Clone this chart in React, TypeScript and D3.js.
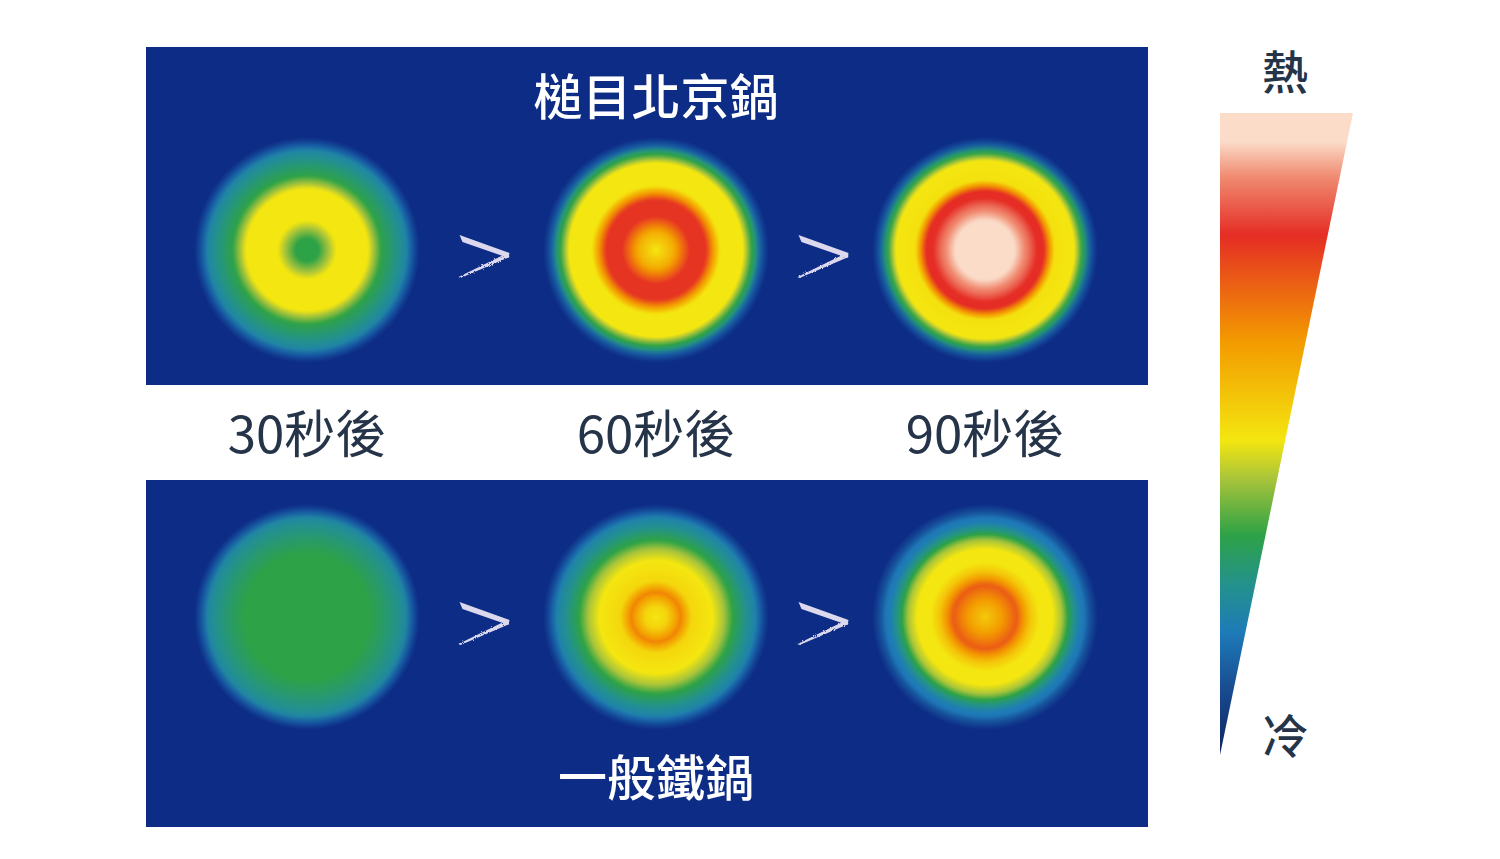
import React from "react";
import * as d3 from "d3";

// ---- data ----
const times = ["30秒後", "60秒後", "90秒後"];
const panels = ["槌目北京鍋", "一般鐵鍋"];
const legendLabels = ["熱", "冷"];

// colour bar: heat value (1 = hot) -> colour
const barHeat = [1.0, 0.956, 0.9, 0.81, 0.645, 0.49, 0.43, 0.343, 0.263, 0.19, 0.09, 0.0];
const barColors = ["#fbdcc8", "#fbdcc8", "#f08a70", "#e52d25", "#f39a00", "#f4e610", "#a8c43a", "#2ea246", "#23918e", "#1e7ab8", "#17468a", "#0e2560"];

// radial heat profiles: [radius fraction, heat]
const wokTop30: [number, number][] = [[0, 0.343], [0.1, 0.343], [0.26, 0.49], [0.54, 0.49], [0.66, 0.34], [0.8, 0.27], [0.92, 0.2], [1, 0.15]];
const wokTop60: [number, number][] = [[0, 0.49], [0.15, 0.6], [0.3, 0.8], [0.44, 0.8], [0.57, 0.49], [0.77, 0.49], [0.85, 0.34], [0.93, 0.2], [1, 0.15]];
const wokTop90: [number, number][] = [[0, 1.0], [0.24, 0.97], [0.38, 0.88], [0.46, 0.81], [0.52, 0.81], [0.62, 0.5], [0.79, 0.49], [0.86, 0.34], [0.94, 0.2], [1, 0.15]];
const ironBot30: [number, number][] = [[0, 0.343], [0.55, 0.343], [0.7, 0.3], [0.82, 0.26], [0.93, 0.2], [1, 0.15]];
const ironBot60: [number, number][] = [[0, 0.49], [0.1, 0.53], [0.22, 0.68], [0.32, 0.52], [0.5, 0.49], [0.6, 0.43], [0.68, 0.343], [0.8, 0.26], [0.92, 0.19], [1, 0.15]];
const ironBot90: [number, number][] = [[0, 0.55], [0.12, 0.62], [0.28, 0.74], [0.4, 0.56], [0.48, 0.49], [0.6, 0.49], [0.68, 0.43], [0.76, 0.3], [0.84, 0.2], [0.93, 0.16], [1, 0.15]];

const profiles = [
  [wokTop30, wokTop60, wokTop90],
  [ironBot30, ironBot60, ironBot90],
];

const BG = "#0d2c86";
const TEXT = "#253448";

export default function App() {
  const heatColor = d3.scaleLinear<string>().domain(barHeat).range(barColors).interpolate(d3.interpolateRgb).clamp(true);

  const xCol = d3.scaleOrdinal<string, number>().domain(times).range([307, 656, 985]);
  const yRow = d3.scaleOrdinal<string, number>().domain(panels).range([250, 617]);
  const panelTop = d3.scaleOrdinal<string, number>().domain(panels).range([47, 480]);
  const panelH = d3.scaleOrdinal<string, number>().domain(panels).range([338, 347]);
  const R = 113;
  const panelX0 = 146, panelX1 = 1148;

  // colour bar geometry
  const barTop = 113, barBot = 755, barL = 1220, barR = 1353;
  const yBar = d3.scaleLinear().domain([1, 0]).range([barTop, barBot]);

  const nSamples = 60;
  const sampleStops = (prof: [number, number][]) => {
    const s = d3.scaleLinear().domain(prof.map((p) => p[0])).range(prof.map((p) => p[1]));
    return d3.range(nSamples + 1).map((i) => {
      const r = i / nSamples;
      const op = r <= 0.88 ? 1 : Math.max(0, 1 - (r - 0.88) / 0.12);
      return { off: r, color: heatColor(s(r)), op };
    });
  };

  const arrow = (cx: number, cy: number, key: string) => {
    const upper = `M${cx - 25},${cy - 18} L${cx + 25},${cy} L${cx + 24},${cy + 5} L${cx - 22},${cy - 11} Z`;
    const lower = `M${cx + 23},${cy} L${cx + 25},${cy + 4} L${cx - 24},${cy + 25} L${cx - 26},${cy + 24} Z`;
    return (
      <g key={key} fill="#dcd8ee">
        <path d={upper} />
        <path d={lower} filter="url(#rough)" />
      </g>
    );
  };

  return (
    <svg width={1500} height={859} style={{ position: "fixed", left: 0, top: 0, background: "#fff" }}
      fontFamily="'Noto Sans CJK TC', 'Noto Sans', sans-serif">
      <defs>
        {panels.map((p, pi) =>
          times.map((t, ti) => (
            <radialGradient key={`g${pi}${ti}`} id={`g${pi}${ti}`} cx="50%" cy="50%" r="50%">
              {sampleStops(profiles[pi][ti]).map((s, i) => (
                <stop key={i} offset={s.off} stopColor={s.color} stopOpacity={s.op} />
              ))}
            </radialGradient>
          ))
        )}
        <linearGradient id="bar" x1="0" y1={barTop} x2="0" y2={barBot} gradientUnits="userSpaceOnUse">
          {barHeat.map((h, i) => (
            <stop key={i} offset={(yBar(h) - barTop) / (barBot - barTop)} stopColor={barColors[i]} />
          ))}
        </linearGradient>
        <filter id="rough" x="-20%" y="-50%" width="140%" height="200%">
          <feTurbulence type="fractalNoise" baseFrequency="0.9" numOctaves="2" result="n" />
          <feDisplacementMap in="SourceGraphic" in2="n" scale="3" />
        </filter>
      </defs>

      {panels.map((p, pi) => (
        <g key={p}>
          <rect x={panelX0} y={panelTop(p)} width={panelX1 - panelX0} height={panelH(p)} fill={BG} />
          {times.map((t, ti) => (
            <circle key={t} cx={xCol(t)} cy={yRow(p)} r={R} fill={`url(#g${pi}${ti})`} />
          ))}
          {times.slice(1).map((t, ti) => {
            const cx = (xCol(times[ti]) + xCol(t)) / 2 + 3;
            return arrow(cx, yRow(p) + 3, `${p}-a${ti}`);
          })}
        </g>
      ))}

      <text x={656} y={115} textAnchor="middle" fill="#fff" fontSize={49} fontWeight={500}>{panels[0]}</text>
      <text x={656} y={796} textAnchor="middle" fill="#fff" fontSize={49} fontWeight={500}>{panels[1]}</text>

      {times.map((t) => (
        <text key={t} x={xCol(t)} y={453} textAnchor="middle" fill={TEXT} fontSize={51} fontWeight={400}>{t}</text>
      ))}

      <path d={`M${barL},${barTop} L${barR},${barTop} L${barL},${barBot} Z`} fill="url(#bar)" />
      <text x={1285} y={89} textAnchor="middle" fill={TEXT} fontSize={46} fontWeight={500}>{legendLabels[0]}</text>
      <text x={1285} y={753} textAnchor="middle" fill={TEXT} fontSize={46} fontWeight={500}>{legendLabels[1]}</text>
    </svg>
  );
}
